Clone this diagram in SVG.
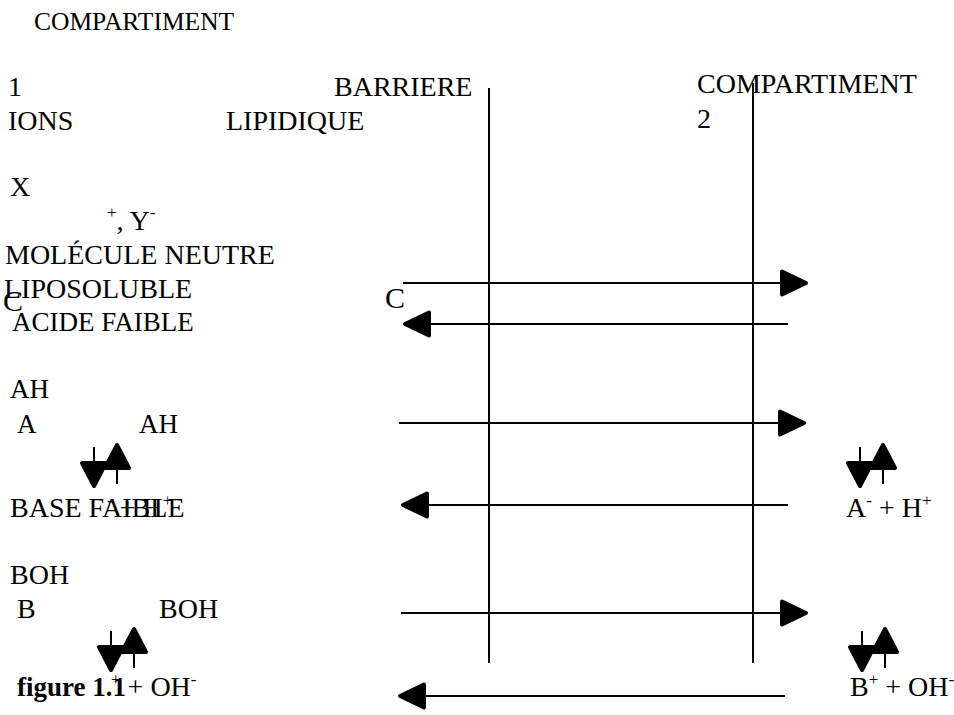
<svg xmlns="http://www.w3.org/2000/svg" xmlns:xlink="http://www.w3.org/1999/xlink" width="954" height="715" viewBox="0 0 954 715">
<style>
text{font-family:"Liberation Serif","Times New Roman",serif;font-size:28px;fill:#000}
.big{font-size:30px}
.sup{font-size:17px}
.bold{font-weight:bold;font-size:27px}
.ln{stroke:#000;stroke-width:2;fill:none}
.hd{fill:#000;stroke:#000;stroke-width:4;stroke-linejoin:round}
</style>
<defs>
<path id="head" class="hd" d="M0,-11.5 L24,0 L0,11.5 Z"/>
<g id="eq">
<line class="ln" x1="0" y1="4" x2="0" y2="19"/>
<path class="hd" d="M-12,20 L12,20 L0,43 Z"/>
<line class="ln" x1="23" y1="41" x2="23" y2="27"/>
<path class="hd" d="M11,25 L35,25 L23,2 Z"/>
</g>
</defs>
<rect width="954" height="715" fill="#fff"/>
<g id="labels">
<text x="34" y="30" style="font-size:25.5px">COMPARTIMENT</text>
<text x="8" y="96">1</text>
<text x="334" y="96">BARRIERE</text>
<text x="697" y="93">COMPARTIMENT</text>
<text x="8" y="130">IONS</text>
<text x="226" y="130">LIPIDIQUE</text>
<text x="697" y="128">2</text>
<text x="10" y="196">X</text>
<text x="107" y="230"><tspan class="sup" y="218">+</tspan><tspan y="230">, Y</tspan><tspan class="sup" y="218">-</tspan></text>
<text x="5" y="264">MOLÉCULE NEUTRE</text>
<text x="4" y="298">LIPOSOLUBLE</text>
<text x="12" y="331" style="font-size:27px">ACIDE FAIBLE</text>
<text class="big" x="3" y="311">C</text>
<text class="big" x="385" y="308">C</text>
<text x="10" y="398" style="font-size:27px">AH</text>
<text x="17" y="433" style="font-size:27px">A</text>
<text x="139" y="433" style="font-size:27px">AH</text>
<text x="10" y="517">BASE FAIBLE</text>
<text x="107" y="517"><tspan class="sup" y="506">-</tspan><tspan y="517"> + H</tspan><tspan class="sup" y="506">+</tspan></text>
<text x="846" y="517">A<tspan class="sup" y="506">-</tspan><tspan y="517"> + H</tspan><tspan class="sup" y="506">+</tspan></text>
<text x="10" y="584">BOH</text>
<text x="17" y="618">B</text>
<text x="159" y="618">BOH</text>
<text class="bold" x="17" y="696">figure 1.1</text>
<text x="111" y="696"><tspan class="sup" y="685">+</tspan><tspan y="696"> + OH</tspan><tspan class="sup" y="685">-</tspan></text>
<text x="850" y="696">B<tspan class="sup" y="685">+</tspan><tspan y="696"> + OH</tspan><tspan class="sup" y="685">-</tspan></text>
</g>
<g id="barrier">
<line class="ln" x1="489" y1="88" x2="489" y2="663"/>
<line class="ln" x1="753" y1="83" x2="753" y2="663"/>
</g>
<g id="equilibria">
<use xlink:href="#eq" x="94" y="443"/>
<use xlink:href="#eq" x="860" y="443"/>
<use xlink:href="#eq" x="111" y="627"/>
<use xlink:href="#eq" x="862" y="627"/>
</g>
<g id="connectors">
<line class="ln" x1="403" y1="283" x2="784" y2="283"/>
<use xlink:href="#head" x="782" y="283"/>
<line class="ln" x1="788" y1="324" x2="427" y2="324"/>
<use xlink:href="#head" transform="translate(429,324) scale(-1,1)"/>
<line class="ln" x1="399" y1="423" x2="782" y2="423"/>
<use xlink:href="#head" x="780" y="423"/>
<line class="ln" x1="788" y1="505" x2="426" y2="505"/>
<use xlink:href="#head" transform="translate(427,505) scale(-1,1)"/>
<line class="ln" x1="401" y1="613" x2="784" y2="613"/>
<use xlink:href="#head" x="782" y="613"/>
<line class="ln" x1="785" y1="696" x2="424" y2="696"/>
<use xlink:href="#head" transform="translate(424,696) scale(-1,1)"/>
</g>
</svg>
